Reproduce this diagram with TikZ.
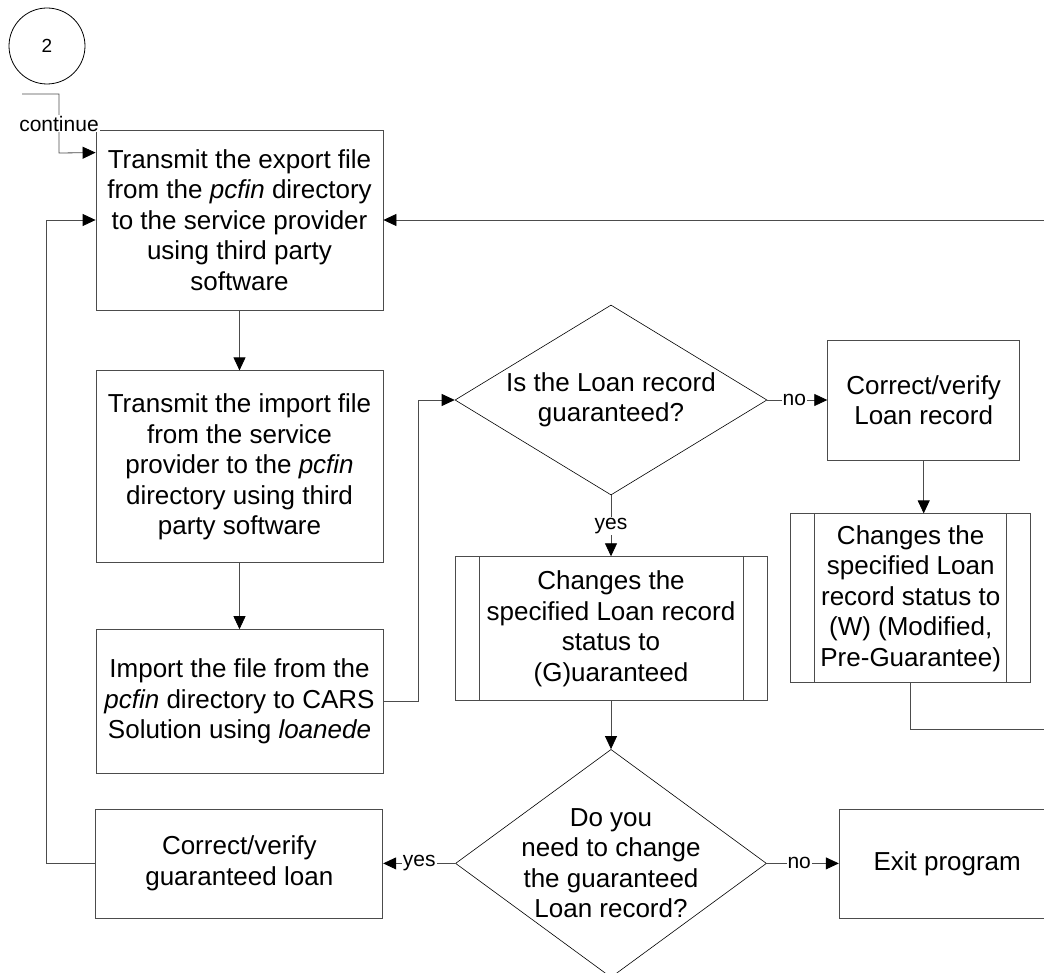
\documentclass[tikz,border=0pt]{standalone}
\usepackage{fontspec}
\setmainfont{Liberation Sans}
\usetikzlibrary{arrows.meta,shapes.geometric,positioning}

\begin{document}
\begin{tikzpicture}[->,>={Triangle[length=13pt,width=12pt,color=black,fill=black]},x=1pt,y=-1pt,
	line width=0.8pt,
	box node/.style={rectangle,draw=black!70,align=center,inner sep=0pt,
		font=\fontsize{26}{30.5}\selectfont},
	decision node/.style={diamond,draw=black,line width=0.6pt,inner sep=0pt},
	process node/.style={box node,path picture={
			\draw[-,draw=black!70] ([xshift=24pt]path picture bounding box.north west) -- ([xshift=24pt]path picture bounding box.south west);
			\draw[-,draw=black!70] ([xshift=-24pt]path picture bounding box.north east) -- ([xshift=-24pt]path picture bounding box.south east);}},
	small node/.style={fill=white,text=black,inner sep=1pt,font=\fontsize{21}{24}\selectfont}]
	
	\useasboundingbox (0,0) rectangle (1044,973);
	\clip (0,0) rectangle (1044,973);
	
	\node[circle,draw=black,minimum size=76pt,inner sep=0pt,font=\fontsize{19}{22}\selectfont] (1) at (47,46) {2};
	\node[box node,minimum width=287pt,minimum height=180pt] (2) at (239.5,220) {Transmit the export file\\from the \textit{pcfin} directory\\to the service provider\\using third party\\software};
	\node[box node,minimum width=287pt,minimum height=192pt,below=60pt of 2] (3) {Transmit the import file\\from the service\\provider to the \textit{pcfin}\\directory using third\\party software};
	\node[box node,minimum width=287pt,minimum height=144pt,below=66pt of 3] (4) {Import the file from the\\\textit{pcfin} directory to CARS\\Solution using \textit{loanede}};
	\node[decision node,minimum width=312pt,minimum height=190pt,label={[box node,draw=none]center:Is the Loan record\\guaranteed?}] (5) at (611,400) {};
	\node[box node,minimum width=192pt,minimum height=120pt,right=60pt of 5] (6) {Correct/verify\\Loan record};
	\node[process node,minimum width=312pt,minimum height=144pt,below=61pt of 5] (7) {Changes the\\specified Loan record\\status to\\(G)uaranteed};
	\node[process node,minimum width=240pt,minimum height=169pt,below=53pt of 6,xshift=-13pt] (8) {Changes the\\specified Loan\\record status to\\(W) (Modified,\\Pre-Guarantee)};
	\node[decision node,minimum width=311pt,minimum height=228pt,below=48pt of 7,label={[box node,draw=none]center:Do you\\need to change\\the guaranteed\\Loan record?}] (9) {};
	\node[box node,minimum width=287pt,minimum height=109pt,left=72pt of 9] (10) {Correct/verify\\guaranteed loan};
	\node[box node,minimum width=216pt,minimum height=109pt,right=72pt of 9] (11) {Exit program};
	
	\coordinate (a) at (22,94);
	\coordinate (b) at (1044,220);
	\coordinate (c) at (1044,729);
	
	\draw[black!70] (a) -| node[small node,pos=0.75] {continue} ++(37,59) -- ([yshift=-23pt]2.north west);
	\draw[black!70] (10.west) -- ++(-49,0) |- (2.west);
	\draw[black!70] (b) -- (2.east);
	\draw[black!70] (4.east) -- ++(35,0) |- (5.west);
	\draw[black!70] (6.south) -- (6.south |- 8.north);
	\draw[-,black!70] (8.south) |- (c);
	
	\path[black!70,every node/.style={small node}]
	(2) edge (3)
	(3) edge (4)
	(5) edge node[pos=0.45] {no} (6)
	edge node[pos=0.5] {yes} (7)
	(7) edge (9)
	(9) edge node {yes} (10)
	edge node[pos=0.45] {no} (11);
\end{tikzpicture}
\end{document}
